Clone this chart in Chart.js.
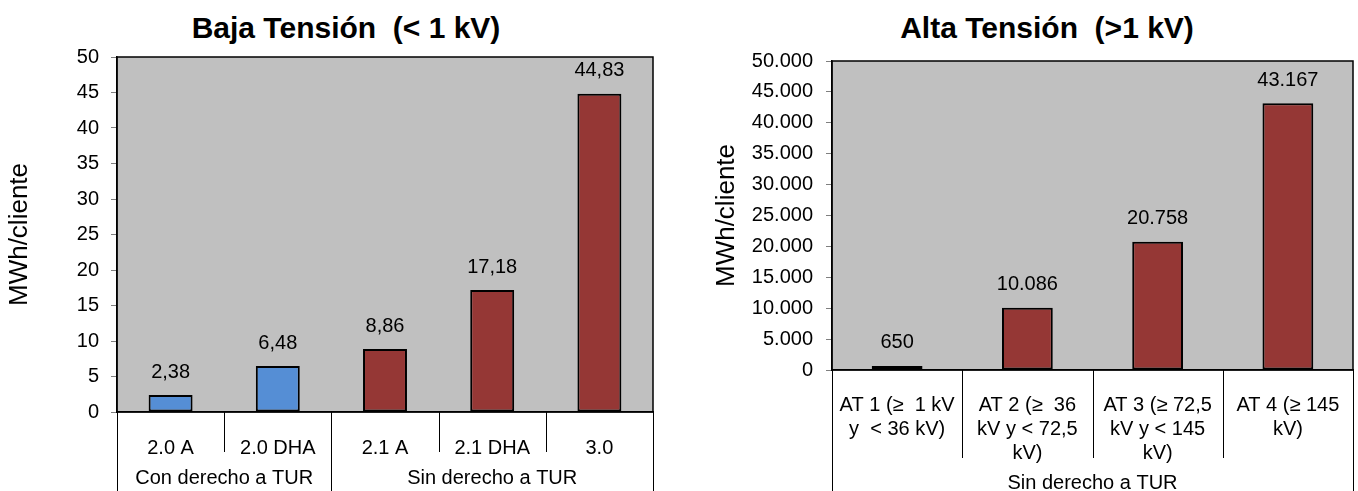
<!DOCTYPE html>
<html>
<head>
<meta charset="utf-8">
<script src="https://cdn.jsdelivr.net/npm/chart.js@4.4.0/dist/chart.umd.min.js"></script>
<style>
  body { margin: 0; background: #fff; width: 1358px; height: 491px; overflow: hidden; position: relative; }
  canvas { position: absolute; top: 0; }
  #bt { left: 0; }
  #at { left: 680px; }
  .titulo { position: absolute; top: 13px; transform: translateX(-50%); font: bold 30px/30px "Liberation Sans", Arial, sans-serif; white-space: pre; color: #000; }
</style>
</head>
<body>
<div class="titulo" style="left:346px">Baja Tensión  (&lt; 1 kV)</div>
<div class="titulo" style="left:1047px">Alta Tensión  (&gt;1 kV)</div>
<canvas id="bt" width="680" height="491"></canvas>
<canvas id="at" width="678" height="491"></canvas>
<script>
// Baja tension
const btLabels = ["2.0 A", "2.0 DHA", "2.1 A", "2.1 DHA", "3.0"]
const btValues = [2.38, 6.48, 8.86, 17.18, 44.83]
const btColors = ["#558ed5", "#558ed5", "#953735", "#953735", "#953735"]
const btGroups = ["Con derecho a TUR", "Sin derecho a TUR"]
const btGroupSpans = [2, 3]

// Alta tension
const atLabels = [
    ["AT 1 (≥  1 kV", "y  < 36 kV)"],
    ["AT 2 (≥  36", "kV y < 72,5", "kV)"],
    ["AT 3 (≥ 72,5", "kV y < 145", "kV)"],
    ["AT 4 (≥ 145", "kV)"]
]
const atValues = [650, 10086, 20758, 43167]
const atColors = ["#953735", "#953735", "#953735", "#953735"]
const atGroups = ["Sin derecho a TUR"]
const atGroupSpans = [4]

const FONT = "'Liberation Sans', Arial, sans-serif"

const decimal = (v) => v.toFixed(2).replace(".", ",")
const miles = (v) => String(v).replace(/\B(?=(\d{3})+(?!\d))/g, ".")

// gray plot background + black frame
const plotFrame = {
    id: "plotFrame",
    beforeDraw(chart) {
        const {ctx, chartArea: a} = chart
        ctx.save()
        ctx.fillStyle = "#c0c0c0"
        ctx.fillRect(a.left, a.top, a.right - a.left, a.bottom - a.top)
        ctx.restore()
    },
    afterDatasetsDraw(chart) {
        const {ctx, chartArea: a} = chart
        ctx.save()
        ctx.strokeStyle = "#000"
        ctx.lineWidth = 1.5
        ctx.strokeRect(a.left, a.top, a.right - a.left, a.bottom - a.top)
        ctx.restore()
    }
}

const valueLabels = (texts) => ({
    id: "valueLabels",
    afterDatasetsDraw(chart) {
        const {ctx} = chart
        ctx.save()
        ctx.font = `20px ${FONT}`
        ctx.fillStyle = "#000"
        ctx.textAlign = "center"
        ctx.textBaseline = "middle"
        chart.getDatasetMeta(0).data.forEach((bar, i) => {
            ctx.fillText(texts[i], bar.x, bar.y - 23)
        })
        ctx.restore()
    }
})

// table-like lines under the x axis, with the group row
const axisTable = (groups, spans, sepLen, groupY) => ({
    id: "axisTable",
    afterDraw(chart) {
        const {ctx, chartArea, scales: {x}} = chart
        const bottom = chartArea.bottom
        const n = chart.data.labels.length
        const edges = [0]
        spans.forEach(s => edges.push(edges[edges.length - 1] + s))

        ctx.save()
        ctx.strokeStyle = "#000"
        ctx.lineWidth = 1
        for (let i = 0; i <= n; i++) {
            const px = Math.round(x.getPixelForValue(i - 0.5)) + 0.5
            const end = edges.includes(i) ? chart.height : bottom + sepLen
            ctx.beginPath()
            ctx.moveTo(px, bottom)
            ctx.lineTo(px, end)
            ctx.stroke()
        }
        ctx.font = `20px ${FONT}`
        ctx.fillStyle = "#000"
        ctx.textAlign = "center"
        ctx.textBaseline = "middle"
        groups.forEach((g, j) => {
            const a = x.getPixelForValue(edges[j] - 0.5)
            const b = x.getPixelForValue(edges[j + 1] - 0.5)
            ctx.fillText(g, (a + b) / 2, groupY)
        })
        ctx.restore()
    }
})

const chartOptions = (o) => ({
    responsive: false,
    animation: false,
    devicePixelRatio: 1,
    layout: {
        padding: {left: o.padLeft, right: o.padRight, top: o.padTop, bottom: 0}
    },
    scales: {
        x: {
            grid: {display: false},
            border: {display: true, color: "#000", width: 1.5},
            ticks: {
                color: "#000",
                padding: o.xTickPad,
                autoSkip: false,
                maxRotation: 0,
                font: {family: FONT, size: 20, lineHeight: 1.2}
            },
            afterFit: (s) => { s.height = o.xHeight }
        },
        y: {
            min: 0,
            max: o.yMax,
            grid: {drawOnChartArea: false, tickLength: 6, color: "#7f7f7f"},
            border: {display: true, color: "#000", width: 1.5},
            ticks: {
                stepSize: o.yStep,
                color: "#000",
                padding: o.yTickPad,
                font: {family: FONT, size: 20},
                callback: o.yFmt
            },
            title: {
                display: true,
                text: "MWh/cliente",
                color: "#000",
                padding: {top: 0, bottom: 0},
                font: {family: FONT, size: 26, lineHeight: 1.2}
            },
            afterFit: (s) => { s.width = o.yWidth }
        }
    },
    plugins: {
        legend: {display: false},
        tooltip: {enabled: false}
    }
})

new Chart(document.querySelector("#bt"), {
    type: "bar",
    data: {
        labels: btLabels,
        datasets: [{
            data: btValues,
            backgroundColor: btColors,
            borderColor: "#000",
            borderWidth: 2,
            borderSkipped: false,
            barPercentage: 0.41,
            categoryPercentage: 1
        }]
    },
    options: chartOptions({
        padLeft: 4, padRight: 27, padTop: 57,
        yWidth: 113, xHeight: 79,
        yMax: 50, yStep: 5, yTickPad: 12,
        yFmt: (v) => String(v),
        xTickPad: 16
    }),
    plugins: [plotFrame, valueLabels(btValues.map(decimal)), axisTable(btGroups, btGroupSpans, 40, 478)]
})

new Chart(document.querySelector("#at"), {
    type: "bar",
    data: {
        labels: atLabels,
        datasets: [{
            data: atValues,
            backgroundColor: atColors,
            borderColor: "#000",
            borderWidth: 2,
            borderSkipped: false,
            barPercentage: 0.39,
            categoryPercentage: 1
        }]
    },
    options: chartOptions({
        padLeft: 31, padRight: 5, padTop: 61,
        yWidth: 121, xHeight: 121,
        yMax: 50000, yStep: 5000, yTickPad: 13,
        yFmt: (v) => miles(v),
        xTickPad: 15
    }),
    plugins: [plotFrame, valueLabels(atValues.map(miles)), axisTable(atGroups, atGroupSpans, 88, 483)]
})
</script>
</body>
</html>
